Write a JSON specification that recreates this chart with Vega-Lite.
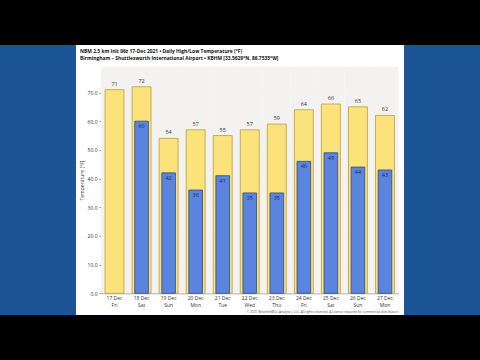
{
  "$schema": "https://vega.github.io/schema/vega-lite/v6.json",
  "background": "#000000",
  "padding": {"top": 45, "bottom": 45, "left": 0, "right": 0},
  "spacing": 0,
  "config": {"font": "Open Sans", "view": {"stroke": null}, "axis": {"labelOverlap": false}},
  "datasets": {
    "temps": [
      {"day": "17 Dec|Fri", "high": 71, "low": null},
      {"day": "18 Dec|Sat", "high": 72, "low": 60},
      {"day": "19 Dec|Sun", "high": 54, "low": 42},
      {"day": "20 Dec|Mon", "high": 57, "low": 36},
      {"day": "21 Dec|Tue", "high": 55, "low": 41},
      {"day": "22 Dec|Wed", "high": 57, "low": 35},
      {"day": "23 Dec|Thu", "high": 59, "low": 35},
      {"day": "24 Dec|Fri", "high": 64, "low": 46},
      {"day": "25 Dec|Sat", "high": 66, "low": 49},
      {"day": "26 Dec|Sun", "high": 65, "low": 44},
      {"day": "27 Dec|Mon", "high": 62, "low": 43}
    ]
  },
  "hconcat": [
    {
      "width": 76, "height": 270,
      "view": {"fill": "#1c5596", "stroke": null},
      "data": {"values": [{}]},
      "mark": {"type": "point", "opacity": 0},
      "encoding": {}
    },
    {
      "width": 328, "height": 270,
      "view": {"fill": "#ffffff", "stroke": null},
      "title": {
        "text": ["NBM 2.5 km Init 06z 17-Dec 2021 • Daily High/Low Temperature (°F)", "Birmingham – Shuttlesworth International Airport • KBHM [33.5629°N, 86.7535°W]"],
        "anchor": "start", "frame": "group", "orient": "top",
        "offset": -16, "fontSize": 4.9, "fontWeight": "bold", "color": "#111111",
        "lineHeight": 7, "dx": 4
      },
      "data": {"name": "temps"},
      "encoding": {
        "x": {
          "field": "day", "type": "ordinal", "sort": null,
          "scale": {"range": [25, 322.5], "paddingInner": 0.3, "paddingOuter": 0.15},
          "axis": {
            "orient": "bottom", "offset": -21.7,
            "labelExpr": "split(datum.label, '|')",
            "labelAngle": 0, "labelFontSize": 5, "labelLineHeight": 7.5, "labelColor": "#333333",
            "labelPadding": 2, "tickSize": 0, "domainColor": "#a8a4b8", "domainWidth": 1,
            "title": "© 2021 WeatherBELL Analytics, LLC. All rights reserved. A License required for commercial distribution.",
            "titleFontSize": 3.2, "titleFontWeight": "normal", "titleColor": "#555555",
            "titleAnchor": "end", "titlePadding": 2
          }
        }
      },
      "layer": [
        {
          "mark": {"type": "bar", "color": "#f3f2f0", "width": {"band": 1.43}},
          "encoding": {
            "y": {"datum": 79, "type": "quantitative",
                  "scale": {"domain": [0, 79], "range": [248.3, 21.7], "nice": false, "zero": true}},
            "y2": {"datum": 0}
          }
        },
        {
          "mark": {"type": "bar", "fill": "#fbe27a", "stroke": "#b8a040", "strokeWidth": 0.8},
          "encoding": {"y": {"field": "high", "type": "quantitative",
                  "axis": {
                    "values": [0, 10, 20, 30, 40, 50, 60, 70],
                    "tickCount": 8,
                    "format": ".1f",
                    "labelOverlap": false,
                    "offset": -25, "labelFontSize": 5, "labelColor": "#333333", "labelPadding": 2,
                    "tickSize": 2, "tickColor": "#999999", "domainColor": "#a8a4b8",
                    "grid": true, "gridColor": "#d8d8d8", "gridWidth": 0.6,
                    "title": "Temperature [°F]", "titleFontSize": 5, "titleFontWeight": "normal",
                    "titleColor": "#333333", "titlePadding": 3
                  }}}
        },
        {
          "mark": {"type": "bar", "fill": "#5a84de", "stroke": "#2c4a90", "strokeWidth": 0.8, "width": {"band": 0.72}},
          "encoding": {"y": {"field": "low", "type": "quantitative"}}
        },
        {
          "mark": {"type": "text", "baseline": "bottom", "dy": -3, "fontSize": 5.5, "color": "#333333"},
          "encoding": {"y": {"field": "high", "type": "quantitative"}, "text": {"field": "high"}}
        },
        {
          "mark": {"type": "text", "baseline": "top", "dy": 3, "fontSize": 5.5, "color": "#1a2a5a"},
          "encoding": {"y": {"field": "low", "type": "quantitative"}, "text": {"field": "low"}}
        }
      ]
    },
    {
      "width": 76, "height": 270,
      "view": {"fill": "#1c5596", "stroke": null},
      "data": {"values": [{}]},
      "mark": {"type": "point", "opacity": 0},
      "encoding": {}
    }
  ]
}
